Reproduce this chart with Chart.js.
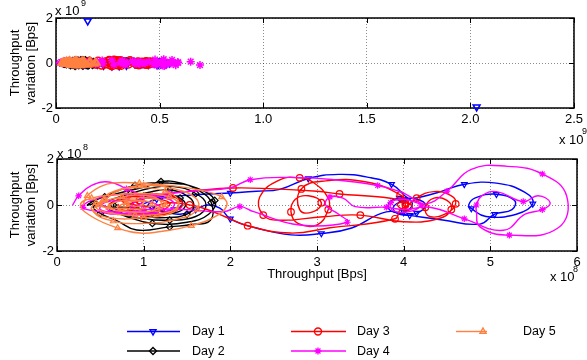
<!DOCTYPE html>
<html><head><meta charset="utf-8">
<script src="https://cdn.jsdelivr.net/npm/chart.js@4.4.1/dist/chart.umd.min.js"></script>
<style>
html,body{margin:0;padding:0;background:#fff;}
body{width:587px;height:360px;position:relative;overflow:hidden;font-family:"Liberation Sans",Arial,sans-serif;color:#000;}
canvas{position:absolute;left:0;}
.t{position:absolute;white-space:nowrap;line-height:1;font-size:13px;}
.s{position:absolute;white-space:nowrap;line-height:1;font-size:9px;}
.lg{position:absolute;white-space:nowrap;line-height:1;font-size:12.5px;}
</style></head><body>
<canvas id="topChart" width="587" height="130" style="top:0px"></canvas>
<canvas id="botChart" width="587" height="230" style="top:130px"></canvas>
<div class="t" style="left:55px;top:4px">x 10</div><div class="s" style="left:81px;top:-1px">9</div>
<div class="t" style="left:559px;top:133px">x 10</div><div class="s" style="left:582px;top:127px">9</div>
<div class="t" style="left:57px;top:147px">x 10</div><div class="s" style="left:83px;top:143px">8</div>
<div class="t" style="left:550px;top:270px">x 10</div><div class="s" style="left:573px;top:265px">8</div>
<div class="lg" style="left:192px;top:325px">Day 1</div>
<div class="lg" style="left:192px;top:345px">Day 2</div>
<div class="lg" style="left:357px;top:325px">Day 3</div>
<div class="lg" style="left:357px;top:345px">Day 4</div>
<div class="lg" style="left:523px;top:325px">Day 5</div>
<script>
// ---- data (throughput and variation, in units of 1e8 Bps) ----
const day1X=[1.00,1.15,1.35,1.45,1.35,1.15,1.05,1.20,1.50,1.75,2.00,2.30,2.57,2.90,3.25,3.60,3.86,4.00,4.10,4.00,3.85,3.83,3.95,4.15,4.25,4.15,3.95,3.88,4.00,4.20,4.40,4.70,5.07,5.40,5.49,5.30,4.95,4.78,4.75,4.82,5.07,5.28,5.25,5.05,4.88,4.45,4.07,3.80,3.40,3.05,2.70,2.30,2.00,1.88,1.73,1.60,1.42,1.25,1.10];
const day1Y=[0.05,0.25,0.35,0.10,-0.20,-0.25,0.00,0.30,0.42,0.48,0.52,0.60,0.68,1.15,1.33,1.20,0.90,0.45,0.05,-0.30,-0.25,0.10,0.30,0.25,0.00,-0.35,-0.40,-0.10,0.20,0.35,0.55,0.90,0.95,0.55,0.05,-0.40,-0.50,-0.15,0.00,0.30,0.47,0.20,-0.20,-0.40,-0.83,-0.65,-0.45,-0.30,-1.00,-1.24,-1.30,-1.00,-0.60,-0.14,0.00,-0.20,-0.40,-0.30,-0.10];
const day2X=[0.38,0.55,0.80,1.03,1.20,1.42,1.65,1.78,1.77,1.55,1.30,0.92,0.70,0.50,0.42,0.60,0.85,1.10,1.35,1.60,1.72,1.60,1.30,1.00,0.75,0.65,0.80,1.05,1.30,1.50,1.58,1.50,1.25,1.00,0.85,0.95,1.20,1.42,1.48,1.35,1.10,0.90,0.60,0.45,0.35,0.50,0.90,1.30,1.60,1.82,1.75,1.50,1.10,0.80,0.60];
const day2Y=[0.15,0.35,0.60,0.80,1.02,0.96,0.60,0.10,-0.66,-0.85,-0.95,-1.09,-0.70,-0.36,-0.05,0.20,0.50,0.75,0.80,0.50,0.00,-0.50,-0.66,-0.60,-0.35,0.00,0.30,0.55,0.65,0.40,0.00,-0.40,-0.55,-0.45,-0.15,0.25,0.45,0.30,-0.05,-0.35,-0.35,-0.10,-0.10,0.05,0.00,0.30,0.85,0.95,0.75,0.20,-0.40,-0.75,-0.80,-0.50,-0.20];
const day3X=[0.60,0.80,1.05,1.30,1.20,0.95,0.80,0.95,1.20,1.60,2.03,2.50,3.00,3.26,3.70,3.96,4.02,3.97,3.93,4.02,4.10,4.00,4.15,4.35,4.55,4.60,4.50,4.30,4.25,4.35,4.50,4.55,4.40,4.00,3.50,3.07,2.57,2.38,2.34,2.57,2.80,2.95,3.13,3.13,3.00,2.78,2.70,2.75,2.90,3.05,2.95,2.80,2.82,3.10,3.57,3.96,4.05,3.96,3.90,3.15,2.69,2.20,1.94,1.69,1.53,1.30,1.10,0.90,0.75,1.00,1.30,1.45,1.30,1.00,0.75,0.70];
const day3Y=[0.05,0.35,0.30,0.10,-0.25,-0.30,-0.10,0.20,0.45,0.62,0.74,0.70,0.60,0.48,0.36,0.20,0.00,-0.15,0.05,0.10,-0.10,-0.30,0.30,0.58,0.40,0.05,-0.35,-0.50,-0.10,0.30,0.20,-0.20,-0.60,-0.73,-0.44,-0.51,-0.66,-0.44,0.36,1.09,1.18,1.00,0.30,-0.20,-0.87,-0.80,-0.30,0.25,0.40,0.10,-0.30,-0.20,0.70,1.05,1.00,0.44,0.00,-0.20,-0.60,-0.99,-1.22,-0.90,-0.51,-0.14,0.00,0.10,-0.05,0.00,0.20,0.45,0.40,0.05,-0.35,-0.40,-0.20,0.05];
const day4X=[0.18,0.25,0.40,0.60,0.80,1.00,0.90,0.70,0.50,0.55,0.80,1.10,1.20,1.00,0.85,1.00,1.30,1.60,2.00,2.23,2.70,3.20,3.70,3.96,4.10,4.20,4.05,3.88,3.85,4.00,4.26,4.50,4.78,5.20,5.60,5.88,5.78,5.22,4.88,4.84,4.84,4.90,5.07,5.38,5.55,5.69,5.60,5.40,5.15,4.70,4.30,4.00,3.80,3.44,3.30,3.15,3.10,3.25,3.35,2.80,2.27,2.11,1.92,1.50,1.00,0.70,0.50,0.30,0.40,0.70,1.10,1.35,1.25,0.90,0.60,0.55];
const day4Y=[0.00,0.40,0.85,1.00,0.70,0.30,-0.10,-0.30,-0.20,0.10,0.20,0.10,-0.20,-0.35,-0.10,0.30,0.50,0.62,0.75,1.10,1.20,1.10,0.85,0.58,0.30,0.00,-0.30,-0.25,0.10,0.25,0.05,0.60,1.55,1.68,1.35,0.40,-1.00,-1.31,-0.95,-0.30,0.00,0.40,0.58,0.15,0.40,0.10,-0.20,-0.40,-1.10,-0.60,-0.10,-0.20,-0.10,-0.07,0.30,0.35,0.00,-0.40,-0.75,-0.87,-0.29,-0.07,-0.29,-0.20,-0.20,-0.40,-0.30,-0.10,0.20,0.45,0.40,0.10,-0.30,-0.40,-0.25,0.00];
const day5X=[0.30,0.35,0.50,0.65,0.95,1.30,1.65,1.90,1.96,1.85,1.55,1.20,0.96,0.70,0.40,0.27,0.40,0.70,1.00,1.30,1.40,1.25,0.90,0.60,0.45,0.55,0.85,1.15,1.25,1.10,0.80,0.60,0.70,0.95,1.10,1.00,0.75,0.50,0.60,0.90,1.25,1.40,1.35,1.00,0.60,0.40,0.45,0.50,0.70,1.00,1.35,1.60,1.62,1.40,1.00,0.65,0.42,0.50,0.75,1.05,1.20,1.15,0.90,0.70,0.80,1.00,0.95,0.80];
const day5Y=[0.00,0.40,0.80,0.96,0.95,0.85,0.65,0.35,0.00,-0.45,-0.90,-1.15,-1.22,-1.00,-0.50,0.00,0.30,0.45,0.50,0.35,0.00,-0.35,-0.45,-0.35,-0.10,0.20,0.30,0.25,0.00,-0.25,-0.30,-0.10,0.15,0.20,0.05,-0.15,-0.15,0.00,0.50,0.75,0.60,0.20,-0.30,-0.55,-0.55,-0.20,0.10,0.10,0.60,0.85,0.70,0.30,-0.20,-0.60,-0.80,-0.70,-0.30,0.05,0.35,0.40,0.15,-0.20,-0.30,-0.15,0.10,0.15,-0.05,0.00];
// extra raw samples only visible in the full-range (top) panel, units 1e8 Bps
const topExtraDay1X=[1.53,20.3];
const topExtraDay1Y=[18.7,-19.5];
const topExtraDay4X=[5.9,6.5,6.95];
const topExtraDay4Y=[0.1,0.6,-0.9];
// ticks
const xTicksTop=[0,0.5,1,1.5,2,2.5];   // x 1e9
const xTicksBottom=[0,1,2,3,4,5,6];    // x 1e8
const yTicks=[-2,0,2];
const seriesNames=['Day 1','Day 2','Day 3','Day 4','Day 5'];

// ---- styles ----
const seriesColors=['#0000ff','#000000','#ff0000','#ff00ff','#ff8040'];
const markerStyles=['triangle','rectRot','circle','star','triangle'];
const markerRot=[180,0,0,0,0];

const allX=[day1X,day2X,day3X,day4X,day5X];
const allY=[day1Y,day2Y,day3Y,day4Y,day5Y];
const extraX={0:topExtraDay1X,3:topExtraDay4X};
const extraY={0:topExtraDay1Y,3:topExtraDay4Y};

Chart.defaults.font.family="'Liberation Sans', Arial, sans-serif";
Chart.defaults.font.size=13;
Chart.defaults.color='#000';

function pts(xs,ys,k){return xs.map((x,i)=>({x:x/k,y:ys[i]/k}));}

const boxPlugin={
  id:'boxTicks',
  beforeDatasetsDraw(chart){
    const {ctx,chartArea:a,scales:{x,y}}=chart;
    ctx.save();
    ctx.strokeStyle='#000';ctx.lineWidth=1;
    ctx.beginPath();
    x.ticks.forEach(t=>{const px=Math.round(x.getPixelForValue(t.value))+0.5;
      ctx.moveTo(px,a.top);ctx.lineTo(px,a.top+5);ctx.moveTo(px,a.bottom);ctx.lineTo(px,a.bottom-5);});
    y.ticks.forEach(t=>{const py=Math.round(y.getPixelForValue(t.value))+0.5;
      ctx.moveTo(a.left,py);ctx.lineTo(a.left+5,py);ctx.moveTo(a.right,py);ctx.lineTo(a.right-5,py);});
    ctx.stroke();
    ctx.lineWidth=1.5;
    ctx.strokeRect(Math.round(a.left),Math.round(a.top),Math.round(a.right-a.left),Math.round(a.bottom-a.top));
    ctx.restore();
  }
};

const legendPlugin={
  id:'legendSamples',
  afterDraw(chart){
    const ctx=chart.ctx;
    const rows=[{i:0,x1:127,x2:180,mx:153,y:201.5},{i:1,x1:127,x2:180,mx:153,y:221},
                {i:2,x1:291,x2:346,mx:318,y:201.5},{i:3,x1:291,x2:346,mx:318,y:221},
                {i:4,x1:456,x2:487,mx:483,y:201.5}];
    rows.forEach(r=>{
      ctx.save();
      ctx.strokeStyle=seriesColors[r.i];ctx.lineWidth=1.4;
      ctx.beginPath();ctx.moveTo(r.x1,r.y);ctx.lineTo(r.x2,r.y);ctx.stroke();
      ctx.fillStyle='rgba(0,0,0,0)';
      Chart.helpers.drawPoint(ctx,{pointStyle:markerStyles[r.i],rotation:markerRot[r.i],radius:3.5,borderWidth:1.3},r.mx,r.y);
      ctx.restore();
    });
  }
};

function yScale(width,titlePad){
  return {min:-2,max:2,
    afterBuildTicks:s=>{s.ticks=yTicks.map(v=>({value:v}));},
    afterFit:s=>{s.width=width;},
    grid:{color:'rgba(0,0,0,0.45)',drawTicks:false,lineWidth:1},
    border:{display:false,dash:[1,2]},
    ticks:{padding:3,font:{size:13}},
    title:{display:true,text:['Throughput','variation [Bps]'],font:{size:13},padding:{top:titlePad,bottom:0}}
  };
}

// ---- top chart (x 1e9) ----
const topDatasets=seriesNames.map((n,i)=>{
  let d=pts(allX[i],allY[i],10);
  if(extraX[i]) d=d.concat(pts(extraX[i],extraY[i],10));
  return {label:n,data:d,showLine:false,order:5-i,clip:false,
    pointStyle:markerStyles[i],rotation:markerRot[i],pointRadius:4,pointBorderWidth:1.5,
    pointBorderColor:seriesColors[i],pointBackgroundColor:'rgba(0,0,0,0)',borderColor:seriesColors[i]};
});
new Chart(document.getElementById('topChart'),{
  type:'scatter',
  data:{datasets:topDatasets},
  options:{responsive:false,animation:false,events:[],
    layout:{padding:{top:18,right:9,left:0,bottom:0}},
    plugins:{legend:{display:false},tooltip:{enabled:false}},
    scales:{
      x:{type:'linear',min:0,max:2.5,
        afterBuildTicks:s=>{s.ticks=xTicksTop.map(v=>({value:v}));},
        afterFit:s=>{s.height=22;},
        grid:{color:'rgba(0,0,0,0.45)',drawTicks:false,lineWidth:1},
        border:{display:false,dash:[1,2]},
        ticks:{padding:4,maxRotation:0,font:{size:13}}},
      y:yScale(56,8)
    }
  },
  plugins:[boxPlugin]
});

// ---- bottom chart (x 1e8) ----
const botDatasets=seriesNames.map((n,i)=>({
  label:n,data:pts(allX[i],allY[i],1),showLine:true,order:5-i,clip:false,
  borderColor:seriesColors[i],borderWidth:1.4,tension:0.45,
  pointStyle:markerStyles[i],rotation:markerRot[i],
  pointRadius:c=>(c.dataIndex%3===1?3.3:0),pointBorderWidth:1.2,
  pointBorderColor:seriesColors[i],pointBackgroundColor:'rgba(0,0,0,0)'
}));
new Chart(document.getElementById('botChart'),{
  type:'scatter',
  data:{datasets:botDatasets},
  options:{responsive:false,animation:false,events:[],
    layout:{padding:{top:29,right:10,left:0,bottom:74}},
    plugins:{legend:{display:false},tooltip:{enabled:false}},
    scales:{
      x:{type:'linear',min:0,max:6,
        afterBuildTicks:s=>{s.ticks=xTicksBottom.map(v=>({value:v}));},
        afterFit:s=>{s.height=35;},
        grid:{color:'rgba(0,0,0,0.45)',drawTicks:false,lineWidth:1},
        border:{display:false,dash:[1,2]},
        ticks:{padding:4,maxRotation:0,font:{size:13}},
        title:{display:true,text:'Throughput [Bps]',font:{size:13},padding:{top:0,bottom:4}}},
      y:yScale(57,8)
    }
  },
  plugins:[boxPlugin,legendPlugin]
});
</script>
</body></html>
